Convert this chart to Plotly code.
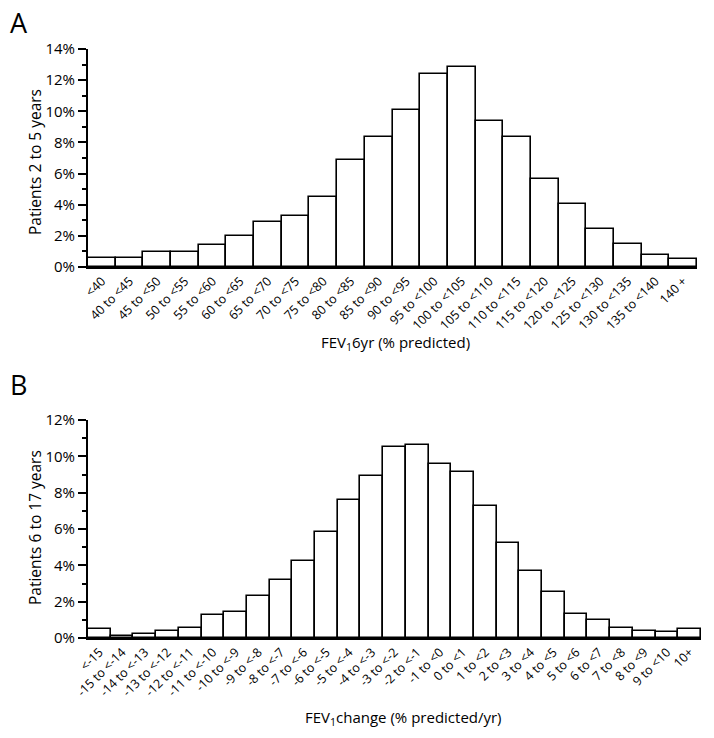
import plotly.graph_objects as go

# Panel A data
cats_a = ["<40", "40 to <45", "45 to <50", "50 to <55", "55 to <60", "60 to <65",
          "65 to <70", "70 to <75", "75 to <80", "80 to <85", "85 to <90", "90 to <95",
          "95 to <100", "100 to <105", "105 to <110", "110 to <115", "115 to <120",
          "120 to <125", "125 to <130", "130 to <135", "135 to <140", "140 +"]
vals_a = [0.56, 0.56, 0.96, 0.96, 1.43, 1.97, 2.86, 3.27, 4.47, 6.86, 8.35, 10.09,
          12.37, 12.86, 9.36, 8.35, 5.62, 4.02, 2.41, 1.50, 0.79, 0.49]

# Panel B data
cats_b = ["<-15", "-15 to <-14", "-14 to <-13", "-13 to <-12", "-12 to <-11",
          "-11 to <-10", "-10 to <-9", "-9 to <-8", "-8 to <-7", "-7 to <-6",
          "-6 to <-5", "-5 to <-4", "-4 to <-3", "-3 to <-2", "-2 to <-1", "-1 to <0",
          "0 to <1", "1 to <2", "2 to <3", "3 to <4", "4 to <5", "5 to <6", "6 to <7",
          "7 to <8", "8 to <9", "9 to <10", "10+"]
vals_b = [0.50, 0.10, 0.24, 0.40, 0.57, 1.25, 1.45, 2.29, 3.17, 4.26, 5.82, 7.60,
          8.90, 10.53, 10.61, 9.56, 9.12, 7.25, 5.21, 3.71, 2.51, 1.30, 0.99, 0.55,
          0.37, 0.31, 0.50]

W, H = 714, 738
FONT = "Open Sans"

fig = go.Figure()
bar_style = dict(marker=dict(color="white", line=dict(color="black", width=1.6)),
                 showlegend=False, hoverinfo="x+y")
fig.add_trace(go.Bar(x=cats_a, y=vals_a, xaxis="x", yaxis="y", **bar_style))
fig.add_trace(go.Bar(x=cats_b, y=vals_b, xaxis="x2", yaxis="y2", **bar_style))

def px_x(p):
    return p / W

def px_y(p):
    return 1 - p / H

xcommon = dict(type="category", showline=True, linecolor="black", linewidth=2,
               ticks="", tickangle=-45, showgrid=False, zeroline=False,
               automargin=False,
               tickfont=dict(family=FONT, size=12.5, color="black"))
ycommon = dict(showline=True, linecolor="black", linewidth=2, ticks="outside",
               ticklen=8, tickwidth=2, tickcolor="black", ticksuffix="%",
               showgrid=False, zeroline=False, dtick=2, tick0=0, automargin=False,
               tickfont=dict(family=FONT, size=15, color="black"),
               minor=dict(dtick=1, ticks="outside", ticklen=4, tickwidth=1.5,
                          tickcolor="black", showgrid=False))

fig.update_layout(
    template="none",
    width=W, height=H, margin=dict(l=0, r=0, t=0, b=0, autoexpand=False),
    paper_bgcolor="white", plot_bgcolor="white", bargap=0,
    font=dict(family=FONT, color="black"),
    xaxis=dict(domain=[px_x(88), px_x(697)], anchor="y",
               range=[-0.5, len(cats_a) - 0.5], **xcommon),
    yaxis=dict(domain=[px_y(267), px_y(49)], anchor="x", range=[0, 14], **ycommon),
    xaxis2=dict(domain=[px_x(88), px_x(701)], anchor="y2",
                range=[-0.5, len(cats_b) - 0.5], **xcommon),
    yaxis2=dict(domain=[px_y(638), px_y(420)], anchor="x2", range=[0, 12], **ycommon),
)

ann = [
    dict(text="A", x=px_x(8), y=px_y(22), xanchor="left", yanchor="middle",
         font=dict(size=27, family=FONT)),
    dict(text="B", x=px_x(8), y=px_y(384), xanchor="left", yanchor="middle",
         font=dict(size=27, family=FONT)),
    dict(text="Patients 2 to 5 years", x=px_x(35), y=px_y(162), textangle=-90,
         xanchor="center", yanchor="middle", font=dict(size=15.5, family=FONT)),
    dict(text="Patients 6 to 17 years", x=px_x(35), y=px_y(528), textangle=-90,
         xanchor="center", yanchor="middle", font=dict(size=15.5, family=FONT)),
    dict(text="FEV<sub>1</sub>6yr (% predicted)", x=px_x(395), y=px_y(343),
         xanchor="center", yanchor="middle", font=dict(size=15, family=FONT)),
    dict(text="FEV<sub>1</sub>change (% predicted/yr)", x=px_x(403), y=px_y(718),
         xanchor="center", yanchor="middle", font=dict(size=15, family=FONT)),
]
for a in ann:
    a.update(xref="paper", yref="paper", showarrow=False)
fig.update_layout(annotations=ann)

fig.write_html("out.html", config={"displayModeBar": False},
               post_script="document.body.style.margin='0';document.body.style.padding='0';")
